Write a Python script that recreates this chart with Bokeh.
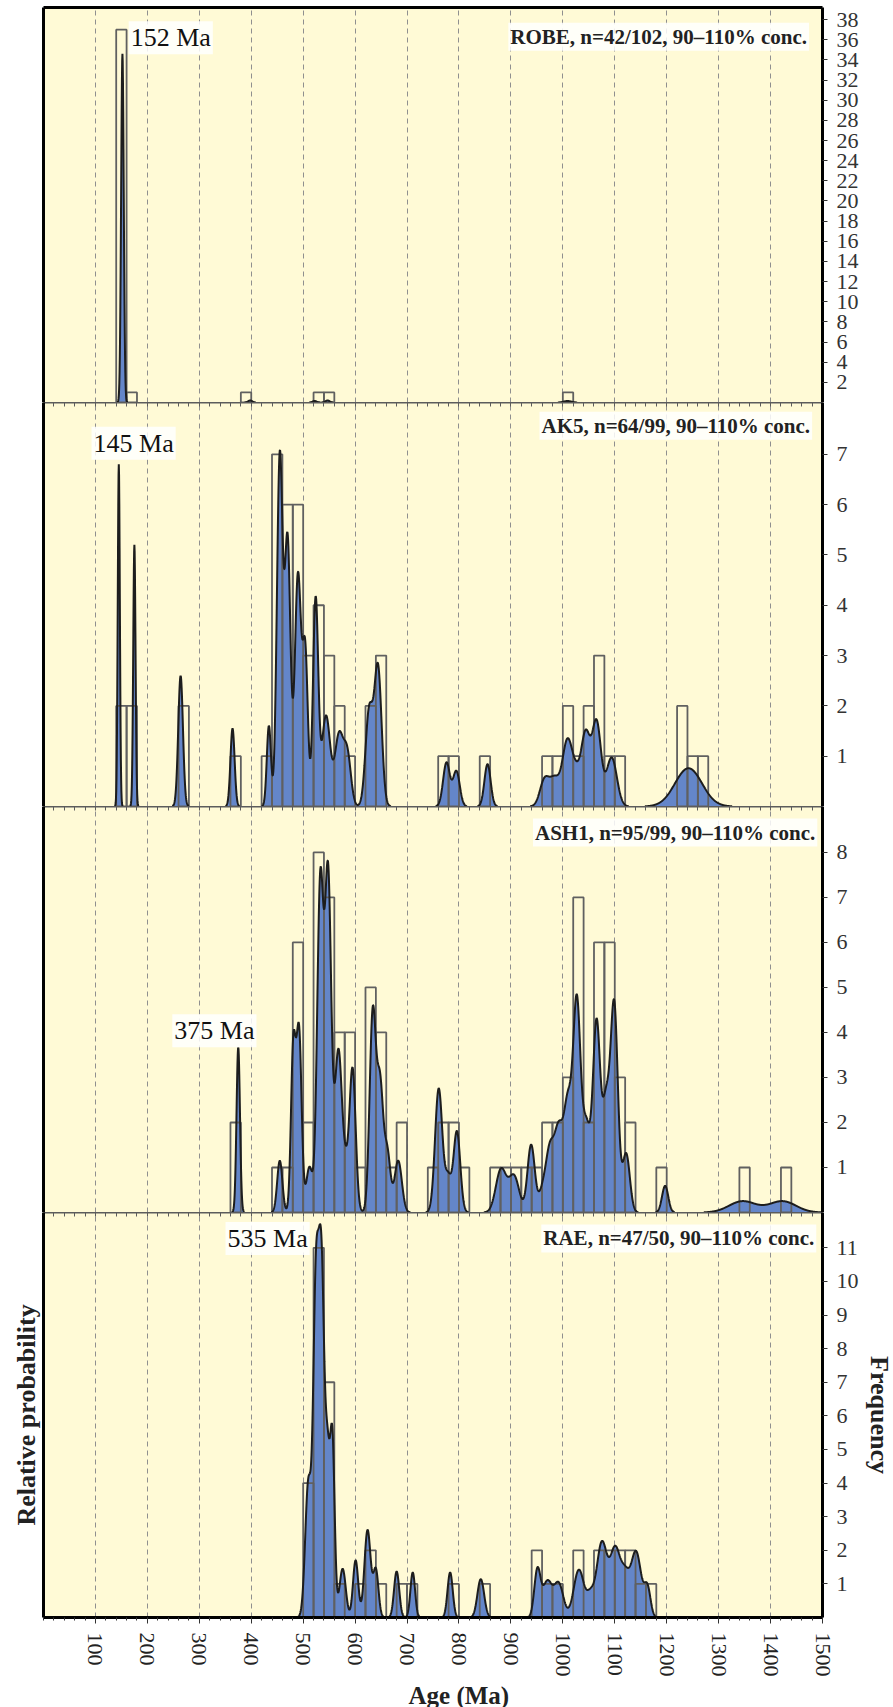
import numpy as np
from bokeh.plotting import figure
from bokeh.layouts import column
from bokeh.models import Range1d, LinearAxis, FixedTicker, Label, Title, Grid
from bokeh.embed import file_html
from bokeh.resources import INLINE

# ---------------------------------------------------------------------------
# Detrital zircon U-Pb ages: histograms (20 Ma bins) + probability density
# ---------------------------------------------------------------------------
bin_width = 20

# ROBE
robe_bin_start = [140, 160, 380, 520, 540, 1000]
robe_count = [37, 1, 1, 1, 1, 1]
robe_peak_age = [152, 398, 522, 547, 1009]
robe_peak_amp = [34.6, 0.2, 0.15, 0.2, 0.15]
robe_peak_sigma = [2.5, 4, 4, 4, 7]

# AK5
ak5_bin_start = [140, 160, 260, 360, 420, 440, 460, 480, 500, 520, 540, 560, 580,
                 620, 640, 760, 780, 840, 960, 980, 1000, 1020, 1040, 1060, 1080,
                 1100, 1220, 1240, 1260]
ak5_count = [2, 2, 2, 1, 1, 7, 6, 6, 3, 4, 3, 2, 1,
             2, 3, 1, 1, 1, 1, 1, 2, 1, 2, 3, 1,
             1, 2, 1, 1]
ak5_peak_age = [145, 175, 264, 364, 434, 455, 470, 490, 504, 524, 544, 569, 585,
                627, 644, 776, 795, 855, 965, 984, 1009, 1027, 1044, 1065, 1094, 1242]
ak5_peak_amp = [6.8, 5.2, 2.6, 1.55, 1.6, 6.95, 5.25, 4.6, 3.0, 4.1, 1.8, 1.4, 1.0,
                1.87, 2.75, 0.87, 0.7, 0.84, 0.53, 0.5, 1.31, 0.45, 1.4, 1.65, 0.97, 0.76]
ak5_peak_sigma = [2.0, 2.2, 4.5, 4.0, 4.0, 5.5, 5.5, 6.0, 5.0, 5.0, 8.0, 8.0, 7.0,
                  7.0, 7.0, 6.5, 6.5, 6.0, 9, 9, 10, 8, 8.5, 8.5, 10, 26]

# ASH1
ash1_bin_start = [360, 440, 460, 480, 500, 520, 540, 560, 580, 600, 620, 640, 660,
                  680, 740, 760, 780, 800, 860, 880, 900, 920, 940, 960, 980, 1000,
                  1020, 1040, 1060, 1080, 1100, 1120, 1180, 1340, 1420]
ash1_count = [2, 1, 1, 6, 2, 8, 7, 4, 4, 1, 5, 4, 1,
              2, 1, 2, 2, 1, 1, 1, 1, 1, 1, 2, 2, 3,
              7, 2, 6, 6, 3, 2, 1, 1, 1]
ash1_peak_age = [375, 455, 481, 492, 512, 533, 548, 568, 582, 595, 634, 648, 662, 683,
                 761, 779, 796, 881, 906, 939, 960, 975, 992, 1010, 1027, 1045, 1065,
                 1083, 1099, 1122, 1197, 1346, 1423]
ash1_peak_amp = [3.67, 1.15, 3.6, 4.0, 1.0, 7.3, 7.4, 3.6, 0.7, 3.2, 4.4, 2.75, 1.3, 1.15,
                 2.75, 0.75, 1.8, 0.95, 0.8, 1.5, 0.4, 1.35, 1.7, 2.35, 4.45, 1.9, 4.15,
                 2.3, 4.55, 1.3, 0.59, 0.25, 0.25]
ash1_peak_sigma = [3.3, 5, 4.5, 5, 6, 6, 6, 7, 5, 6, 6, 6, 6, 7,
                   7, 6, 6.5, 10, 10, 7, 7, 8, 8, 8, 7, 8, 7,
                   7, 7, 7, 6, 26, 26]

# RAE
rae_bin_start = [500, 520, 540, 560, 600, 620, 640, 680, 700, 780, 840, 940, 960, 980,
                 1020, 1060, 1080, 1100, 1120, 1140, 1160]
rae_count = [4, 11, 7, 1, 1, 2, 1, 1, 1, 1, 1, 2, 1, 1,
             2, 2, 2, 2, 2, 1, 1]
rae_peak_age = [535, 510, 524, 547, 556, 576, 601, 624, 640, 680, 711, 783, 842, 951,
                970, 992, 1031, 1053, 1075, 1101, 1120, 1141, 1163]
rae_peak_amp = [10.6, 4.0, 8.4, 3.5, 5.4, 1.45, 1.7, 2.6, 1.4, 1.37, 1.34, 1.34, 1.14, 1.38,
                1.05, 1.0, 1.42, 0.55, 2.2, 2.0, 1.0, 1.95, 0.83]
rae_peak_sigma = [6, 6, 5, 4, 4.5, 6, 5, 6, 5, 5, 4.5, 5, 6.5, 6,
                  9, 9, 10, 7, 10, 10, 8, 10, 6]

robe_title = "ROBE, n=42/102, 90\u2013110% conc."
ak5_title = "AK5, n=64/99, 90\u2013110% conc."
ash1_title = "ASH1, n=95/99, 90\u2013110% conc."
rae_title = "RAE, n=47/50, 90\u2013110% conc."

age_ticks = list(range(100, 1501, 100))
age_minor_ticks = list(range(0, 1501, 20))

# ---------------------------------------------------------------------------
SERIF = "Liberation Serif"
BG = "#FFFAD6"
FILL = "#6486C9"
BAR_LINE = "#606060"
BASE_LINE = "#5c5c5c"

ages = np.arange(0.0, 1500.01, 0.5)


def density(peak_age, peak_amp, peak_sigma):
    """Sum of normal components, in frequency units."""
    a = np.asarray(peak_age, float)[:, None]
    h = np.asarray(peak_amp, float)[:, None]
    s = np.asarray(peak_sigma, float)[:, None]
    return (h * np.exp(-0.5 * ((ages[None, :] - a) / s) ** 2)).sum(axis=0)


x_range = Range1d(0, 1500)


def line_axis(color, width, minor_ticks=()):
    """An axis drawn as a plain line, optionally with short inward ticks."""
    return LinearAxis(ticker=FixedTicker(ticks=[], minor_ticks=list(minor_ticks)),
                      axis_line_color=color, axis_line_width=width,
                      major_tick_line_color=None,
                      minor_tick_line_color=color if minor_ticks else None,
                      minor_tick_in=4, minor_tick_out=0, major_tick_in=0, major_tick_out=0,
                      major_label_standoff=0)


def make_panel(frame_height, y_top, freq_ticks, bins, counts,
               peak_age, peak_amp, peak_sigma, first=False, last=False):
    p = figure(frame_width=779, frame_height=frame_height, x_range=x_range,
               y_range=Range1d(0, y_top), x_axis_location=None, y_axis_location=None,
               output_backend="svg", toolbar_location=None,
               min_border=0, min_border_left=43, min_border_right=71,
               min_border_top=7 if first else 0, min_border_bottom=0,
               background_fill_color=BG, border_fill_color="white",
               outline_line_color=None)
    for g in p.grid:
        g.visible = False
    p.add_layout(Grid(dimension=0, ticker=FixedTicker(ticks=list(range(100, 1500, 100))),
                      grid_line_color="#8f8f8f", grid_line_dash="5 4", grid_line_width=1))

    curve = density(peak_age, peak_amp, peak_sigma)
    p.varea(x=ages, y1=0, y2=curve, fill_color=FILL)
    p.quad(left=bins, right=[b + bin_width for b in bins], bottom=0, top=counts,
           fill_color=None, line_color=BAR_LINE, line_width=1.8)
    p.line(x=ages, y=np.where(curve > 0.004, curve, np.nan),
           line_color="#1d1d1d", line_width=2)

    left = line_axis("black", 3)
    p.add_layout(left, "left")

    right = LinearAxis(ticker=FixedTicker(ticks=freq_ticks), axis_line_color="black",
                       axis_line_width=3, major_tick_out=5, major_tick_in=0,
                       major_tick_line_color="#333333", minor_tick_line_color=None,
                       major_label_standoff=9, major_label_text_font=SERIF,
                       major_label_text_font_size="22px", major_label_text_color="#333333")
    p.add_layout(right, "right")

    if first:
        p.add_layout(line_axis("black", 3), "above")
    else:
        # baseline of the panel above, with short ticks pointing down
        p.add_layout(line_axis(BASE_LINE, 2, age_minor_ticks), "above")

    if last:
        bottom = LinearAxis(ticker=FixedTicker(ticks=age_ticks, minor_ticks=age_minor_ticks),
                            axis_line_color="black", axis_line_width=3,
                            major_tick_out=6, major_tick_in=0, minor_tick_out=3, minor_tick_in=0,
                            major_tick_line_color="#333333", minor_tick_line_color="#333333",
                            major_label_orientation=-np.pi / 2, major_label_standoff=9,
                            major_label_text_font=SERIF, major_label_text_font_size="22px",
                            major_label_text_color="#222222")
        p.add_layout(bottom, "below")
        p.add_layout(Title(text="Age (Ma)", align="left", offset=365, standoff=0,
                           text_font=SERIF, text_font_size="25px", text_font_style="bold",
                           text_color="#222222"), "below")
        for ax in (left, right):
            ax.axis_label_text_font = SERIF
            ax.axis_label_text_font_size = "26px"
            ax.axis_label_text_font_style = "bold"
            ax.axis_label_text_color = "#222222"
            ax.axis_label_standoff = 3
        left.axis_label = "Relative probability"
        right.axis_label = "Frequency"
    return p


def sample_label(p, x, y, text):
    p.add_layout(Label(x=x, y=y, text=text, text_font=SERIF, text_font_size="21px",
                       text_font_style="bold", text_align="right", text_baseline="middle",
                       text_color="#222222", background_fill_color="white",
                       background_fill_alpha=0.85, padding=2))


def peak_label(p, x, y, age):
    p.add_layout(Label(x=x, y=y, text=f"{age} Ma", text_font=SERIF, text_font_size="26px",
                       text_align="left", text_baseline="middle", text_color="#111111",
                       background_fill_color="white", background_fill_alpha=0.85, padding=2))


p_robe = make_panel(395, 39.2, list(range(2, 39, 2)), robe_bin_start, robe_count,
                    robe_peak_age, robe_peak_amp, robe_peak_sigma, first=True)
sample_label(p_robe, 1474, 36.3, robe_title)
peak_label(p_robe, 164, 36.2, robe_peak_age[0])

p_ak5 = make_panel(404, 8.03, list(range(1, 8)), ak5_bin_start, ak5_count,
                   ak5_peak_age, ak5_peak_amp, ak5_peak_sigma)
sample_label(p_ak5, 1480, 7.57, ak5_title)
peak_label(p_ak5, 92.5, 7.22, ak5_peak_age[0])

p_ash1 = make_panel(406, 9.02, list(range(1, 9)), ash1_bin_start, ash1_count,
                    ash1_peak_age, ash1_peak_amp, ash1_peak_sigma)
sample_label(p_ash1, 1490, 8.44, ash1_title)
peak_label(p_ash1, 248, 4.04, ash1_peak_age[0])

p_rae = make_panel(405, 12.05, list(range(1, 12)), rae_bin_start, rae_count,
                   rae_peak_age, rae_peak_amp, rae_peak_sigma, last=True)
sample_label(p_rae, 1488, 11.28, rae_title)
peak_label(p_rae, 350.5, 11.28, rae_peak_age[0])

layout = column(p_robe, p_ak5, p_ash1, p_rae)

open("out.html", "w").write(file_html(layout, INLINE))
